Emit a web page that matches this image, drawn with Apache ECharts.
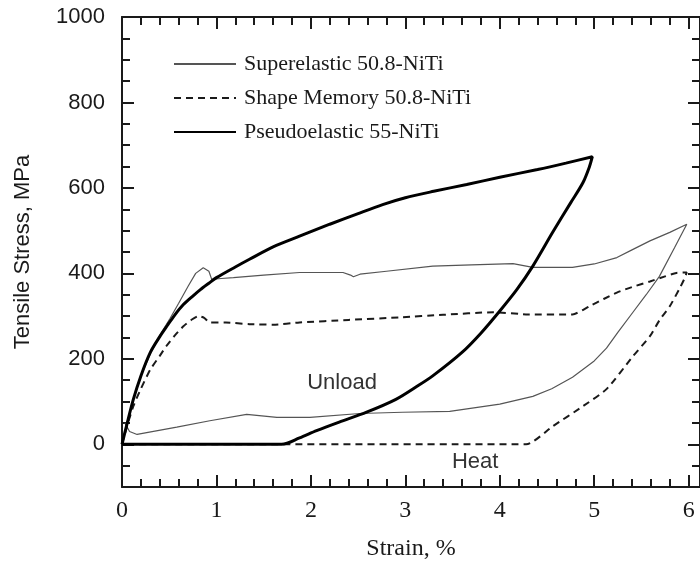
<!DOCTYPE html>
<html>
<head>
<meta charset="utf-8">
<script src="https://cdn.jsdelivr.net/npm/echarts@6/dist/echarts.min.js"></script>
<style>html,body{margin:0;padding:0;background:#fff;}#c{width:700px;height:569px;}</style>
</head>
<body>
<div id="c"></div>
<script>
// ---- data ----
var seriesNames = ['Superelastic 50.8-NiTi', 'Shape Memory 50.8-NiTi', 'Pseudoelastic 55-NiTi'];

var superelastic = [
  [0,0],[0.05,45],[0.12,105],[0.2,160],[0.3,212],[0.4,255],[0.51,295],[0.6,330],[0.7,370],[0.78,400],
  [0.86,413],[0.92,405],[0.95,386],[1.05,388],[1.18,390],[1.5,396],[1.88,402],[2.2,402],[2.34,402],
  [2.42,396],[2.45,392],[2.52,398],[2.8,405],[3.29,417],[3.7,420],[4.14,423],[4.35,414],[4.77,414],
  [5.0,422],[5.24,437],[5.4,455],[5.59,476],[5.8,496],[5.98,515],
  [5.85,460],[5.69,393],[5.55,350],[5.41,309],[5.25,262],[5.13,225],[5.0,195],[4.77,157],[4.55,130],
  [4.35,112],[4.0,94],[3.47,77],[2.97,75],[2.52,72],[1.99,63],[1.64,63],[1.32,70],[0.93,55],[0.58,40],
  [0.16,23],[0.08,30],[0.03,50]
];

var shapeMemory = [
  [0,0],[0.05,40],[0.12,89],[0.2,130],[0.3,175],[0.4,207],[0.47,230],[0.56,255],[0.65,276],[0.74,292],
  [0.81,300],[0.87,296],[0.93,285],[1.1,285],[1.35,281],[1.6,280],[1.88,285],[2.4,291],[2.94,297],
  [3.4,303],[3.93,309],[4.3,304],[4.77,304],[4.95,323],[5.1,340],[5.24,355],[5.4,368],[5.59,381],
  [5.75,393],[5.87,401],[5.98,402],
  [5.95,385],[5.9,363],[5.8,323],[5.69,290],[5.59,253],[5.41,206],[5.13,129],[4.88,89],[4.56,42],
  [4.28,0],[0,0]
];

var pseudoelastic = [
  [0,0],[0.05,45],[0.12,105],[0.2,160],[0.3,215],[0.4,252],[0.48,278],[0.56,303],[0.65,327],[0.75,347],
  [0.83,362],[0.92,377],[1.0,390],[1.2,415],[1.35,433],[1.6,462],[1.88,487],[2.2,515],[2.5,540],
  [2.76,561],[3.0,577],[3.3,592],[3.65,608],[4.0,625],[4.4,643],[4.7,658],[4.98,673],
  [4.95,650],[4.88,612],[4.75,565],[4.56,496],[4.35,417],[4.18,362],[4.0,312],[3.8,260],[3.6,215],
  [3.29,160],[3.12,135],[2.9,105],[2.59,75],[2.3,52],[2.06,32],[1.88,15],[1.69,0],[1.0,0],[0,0]
];

var xMajorTicks = [0,1,2,3,4,5,6];
var xMinorTicks = [0.2,0.4,0.6,0.8,1.2,1.4,1.6,1.8,2.2,2.4,2.6,2.8,3.2,3.4,3.6,3.8,4.2,4.4,4.6,4.8,5.2,5.4,5.6,5.8];
var yMajorTicks = [0,200,400,600,800,1000];
var yMinorTicks = [-50,50,100,150,250,300,350,450,500,550,650,700,750,850,900,950];

var annotations = [
  {text: 'Unload', x: 2.33, y: 143},
  {text: 'Heat', x: 3.74, y: -41}
];

// ---- chart ----
var X_MIN = 0, X_MAX = 6.12, Y_MIN = -100, Y_MAX = 1000;
var INK = '#1a1a1a';
var serif = 'Liberation Serif';
var sans = 'Liberation Sans';

function plain(v) { return String(v); }

function xAx(pos, major, withLabel) {
  return {
    type: 'value', position: pos, min: X_MIN, max: X_MAX,
    axisLine: {show: major, onZero: false, lineStyle: {color: INK, width: 2}},
    axisTick: {show: true, inside: true, length: major ? 12 : 8, customValues: major ? xMajorTicks : xMinorTicks,
               lineStyle: {color: INK, width: 2}},
    axisLabel: withLabel ? {show: true, customValues: xMajorTicks, formatter: plain, fontFamily: serif, fontSize: 24, color: INK, margin: 12} : {show: false},
    splitLine: {show: false},
    name: withLabel ? 'Strain, %' : '',
    nameLocation: 'middle', nameGap: 50,
    nameTextStyle: {fontFamily: serif, fontSize: 24, color: INK}
  };
}
function yAx(pos, major, withLabel) {
  return {
    type: 'value', position: pos, min: Y_MIN, max: Y_MAX,
    axisLine: {show: major, onZero: false, lineStyle: {color: INK, width: 2}},
    axisTick: {show: true, inside: true, length: major ? 12 : 8, customValues: major ? yMajorTicks : yMinorTicks,
               lineStyle: {color: INK, width: 2}},
    axisLabel: withLabel ? {show: true, customValues: yMajorTicks, formatter: plain, fontFamily: sans, fontSize: 22, color: INK, margin: 17} : {show: false},
    splitLine: {show: false},
    name: withLabel ? 'Tensile Stress, MPa' : '',
    nameLocation: 'middle', nameGap: 88,
    nameTextStyle: {fontFamily: sans, fontSize: 22, color: INK}
  };
}

var chart = echarts.init(document.getElementById('c'), null, {renderer: 'canvas'});
var option = {
  animation: false,
  backgroundColor: '#fff',
  grid: {left: 122, right: 0, top: 17, bottom: 82, containLabel: false},
  xAxis: [xAx('bottom', true, true), xAx('bottom', false, false), xAx('top', true, false), xAx('top', false, false)],
  yAxis: [yAx('left', true, true), yAx('left', false, false), yAx('right', true, false), yAx('right', false, false)],
  legend: {
    orient: 'vertical', left: 168, top: 48,
    itemWidth: 62, itemHeight: 14, itemGap: 12,
    itemStyle: {opacity: 0},
    textStyle: {fontFamily: serif, fontSize: 22, color: INK, lineHeight: 22, padding: [0,0,0,3]},
    data: seriesNames
  },
  series: [
    {name: seriesNames[0], type: 'line', xAxisIndex: 0, yAxisIndex: 0, data: superelastic, symbol: 'none',
     lineStyle: {color: '#555', width: 1.2}, itemStyle: {color: '#555'}, z: 2},
    {name: seriesNames[1], type: 'line', xAxisIndex: 0, yAxisIndex: 0, data: shapeMemory, symbol: 'none', smooth: 0.2,
     lineStyle: {color: INK, width: 2, type: [7,5]}, itemStyle: {color: INK}, z: 3},
    {name: seriesNames[2], type: 'line', xAxisIndex: 0, yAxisIndex: 0, data: pseudoelastic, symbol: 'none', smooth: 0.3,
     lineStyle: {color: '#000', width: 3}, itemStyle: {color: '#000'}, z: 4}
  ]
};
chart.setOption(option);

var g = annotations.map(function(a){
  var p = chart.convertToPixel({xAxisIndex: 0, yAxisIndex: 0}, [a.x, a.y]);
  return {type: 'text', x: p[0], y: p[1], z: 10,
          style: {text: a.text, fontFamily: sans, fontSize: 22, fill: '#333', align: 'center', verticalAlign: 'middle'}};
});
chart.setOption({graphic: g});
</script>
</body>
</html>
